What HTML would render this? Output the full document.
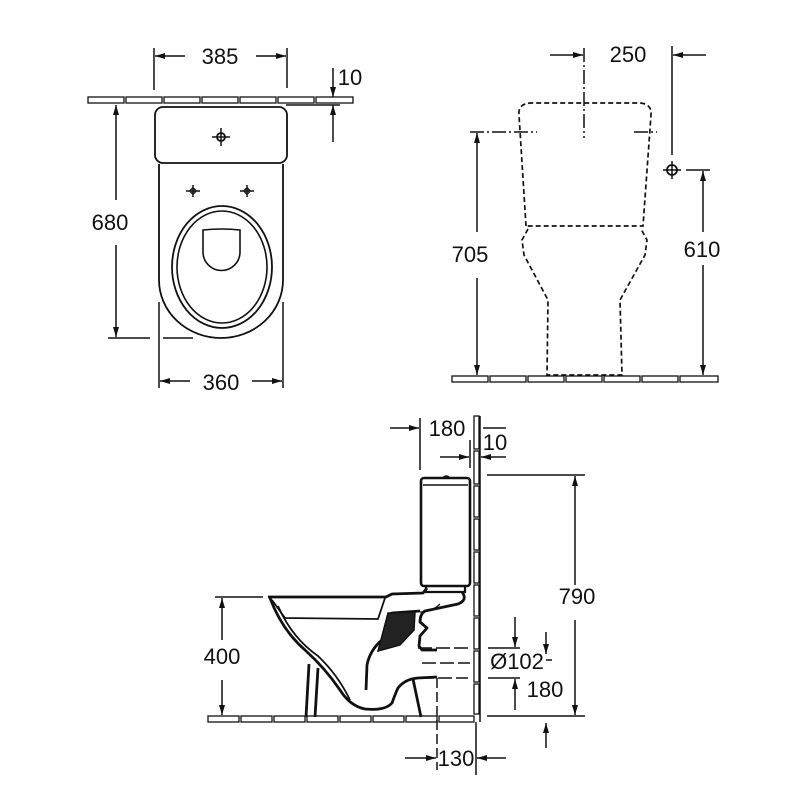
<!DOCTYPE html>
<html><head><meta charset="utf-8"><style>
html,body{margin:0;padding:0;background:#fff}
svg{display:block}
text{font-family:"Liberation Sans",sans-serif;font-size:22px;fill:#111;text-anchor:middle}
</style></head><body>
<svg width="800" height="800" viewBox="0 0 800 800" xmlns="http://www.w3.org/2000/svg">
<defs>
<marker id="a" viewBox="0 0 10 10" refX="10" refY="5" markerWidth="10" markerHeight="10" orient="auto-start-reverse" markerUnits="userSpaceOnUse"><path d="M0,2 L10,5 L0,8z" fill="#111"/></marker>
</defs>
<g stroke="#111" fill="none" stroke-width="1.5">
<!-- TOP VIEW -->
<g stroke-width="1.3">
<rect x="88" y="97" width="36" height="6"/><rect x="126" y="97" width="36" height="6"/><rect x="164" y="97" width="36" height="6"/><rect x="202" y="97" width="36" height="6"/><rect x="240" y="97" width="36" height="6"/><rect x="278" y="97" width="36" height="6"/><rect x="316" y="97" width="37" height="6"/>
</g>
<line x1="286" y1="105" x2="340" y2="105"/>
<rect x="155" y="107" width="132" height="56" rx="8" stroke-width="1.8"/>
<path d="M159,164 L159,280 A62,58 0 0 0 283,280 L283,164" stroke-width="1.8"/>
<ellipse cx="222" cy="267" rx="50" ry="61" stroke-width="1.8"/>
<ellipse cx="222" cy="267" rx="45" ry="56" stroke-width="1.6"/>
<path d="M203,230 Q222,228 240,230 L240,252 A18,18 0 0 1 203,252 Z" stroke-width="1.6"/>
<circle cx="221" cy="137" r="4" stroke-width="1.8"/><path d="M221,128v18M212,137h18"/>
<circle cx="193" cy="191" r="2.5"/><path d="M193,185v12M186,191h14"/>
<circle cx="247" cy="191" r="2.5"/><path d="M247,185v12M240,191h14"/>
<!-- 385 -->
<path d="M154,48V90M287,48V88"/>
<line x1="185" y1="56" x2="155" y2="56" marker-end="url(#a)"/>
<line x1="256" y1="56" x2="286" y2="56" marker-end="url(#a)"/>
<!-- 10 -->
<line x1="333" y1="68" x2="333" y2="97" marker-end="url(#a)"/>
<line x1="333" y1="142" x2="333" y2="105" marker-end="url(#a)"/>
<!-- 680 -->
<line x1="116" y1="200" x2="116" y2="105" marker-end="url(#a)"/>
<line x1="116" y1="245" x2="116" y2="337" marker-end="url(#a)"/>
<path d="M108,338H150M163,338H193"/>
<!-- 360 -->
<path d="M159,302V388M283,302V388"/>
<line x1="190" y1="381" x2="160" y2="381" marker-end="url(#a)"/>
<line x1="252" y1="381" x2="282" y2="381" marker-end="url(#a)"/>

<!-- FRONT VIEW -->
<g stroke-width="1.3">
<rect x="452" y="376" width="36" height="6"/><rect x="490" y="376" width="36" height="6"/><rect x="528" y="376" width="36" height="6"/><rect x="566" y="376" width="36" height="6"/><rect x="604" y="376" width="36" height="6"/><rect x="642" y="376" width="36" height="6"/><rect x="680" y="376" width="38" height="6"/>
</g>
<g stroke-dasharray="5,3" stroke-width="1.7">
<path d="M526,226 L519,115 Q518,104 530,103 L640,103 Q652,104 651,115 L643,226 Z"/>
<path d="M528,229 L522,240 L524,255 L548,300 L547,375 L622,375 L620,300 L645,255 L647,240 L641,229"/>
</g>
<g stroke-dasharray="14,3,2,3">
<path d="M584,48V138"/>
<path d="M470,132H537M634,132H657"/>
</g>
<circle cx="672" cy="170" r="5" stroke-width="1.8"/><path d="M672,161v18M663,170h18"/>
<path d="M672,46V155"/>
<path d="M686,170H710"/>
<!-- 250 -->
<line x1="550" y1="55" x2="583" y2="55" marker-end="url(#a)"/>
<line x1="706" y1="55" x2="673" y2="55" marker-end="url(#a)"/>
<!-- 705 -->
<line x1="477" y1="232" x2="477" y2="133" marker-end="url(#a)"/>
<line x1="477" y1="278" x2="477" y2="375" marker-end="url(#a)"/>
<!-- 610 -->
<line x1="703" y1="232" x2="703" y2="171" marker-end="url(#a)"/>
<line x1="703" y1="265" x2="703" y2="375" marker-end="url(#a)"/>

<!-- SIDE VIEW -->
<g stroke-width="1.3">
<rect x="208" y="716" width="31" height="6"/><rect x="241" y="716" width="31" height="6"/><rect x="274" y="716" width="31" height="6"/><rect x="307" y="716" width="31" height="6"/><rect x="340" y="716" width="31" height="6"/><rect x="373" y="716" width="31" height="6"/><rect x="406" y="716" width="31" height="6"/><rect x="439" y="716" width="35" height="6"/>
<rect x="474" y="416" width="5" height="33"/><rect x="474" y="451" width="5" height="33"/><rect x="474" y="486" width="5" height="31"/><rect x="474" y="519" width="5" height="31"/><rect x="474" y="552" width="5" height="31"/><rect x="474" y="585" width="5" height="31"/><rect x="474" y="618" width="5" height="31"/><rect x="474" y="651" width="5" height="31"/><rect x="474" y="684" width="5" height="30"/>
</g>
<path d="M480,416V722"/>
<path d="M470,440V468"/>
<!-- tank -->
<rect x="421" y="478" width="49" height="108" rx="3" stroke-width="2.6"/>
<path d="M423,485H468" stroke-width="1.6"/>
<path d="M443,478 Q446,474 450,478" stroke-width="1.6"/>
<path d="M426,586 L426,592 L465,592 L465,586" stroke-width="2.2"/>
<!-- bowl -->
<g stroke-width="2.8" stroke-linejoin="round">
<path d="M268,597 L386,597 L392,594 L423,593 L427,588"/>
<path d="M462,592 Q468,600 458,604 L425,611 Q420,614 420,622 L427,628 L420,636 L419,646 L422,650 L437,650"/>
<path d="M270,598 Q282,630 305,650 Q325,668 340,690 Q350,706 365,709 Q385,711 392,703 Q396,692 398,688 Q405,679 418,678 L437,677"/>
<path d="M366,690 L367,665 Q370,650 382,640 L392,613 L420,611"/>
<path d="M309,664 L306,717 M318,668 L315,717 M413,679 L421,717"/>
</g>
<g stroke-width="1.8">
<path d="M272,600 L285,618 L378,619 L385,598"/>
<path d="M278,606 Q292,638 318,656 Q338,675 350,700"/>
</g>
<path d="M388,613 L415,612 L414,630 L400,645 L378,651 Z" fill="#222" stroke-width="1.5"/>
<path d="M420,612 Q432,612 440,604" stroke-width="1.3"/>
<g stroke-dasharray="14,4" stroke-width="1.5">
<path d="M418,648H468M422,663H470M420,678H468"/>
</g>
<path d="M437,678V770" stroke-dasharray="10,4"/>
<path d="M476,722V775"/>
<!-- 180 top -->
<path d="M420,418V470"/>
<line x1="390" y1="428" x2="419" y2="428" marker-end="url(#a)"/>
<!-- 10 side -->
<line x1="440" y1="457" x2="469" y2="457" marker-end="url(#a)"/>
<line x1="506" y1="457" x2="481" y2="457" marker-end="url(#a)"/>
<line x1="483" y1="428" x2="506" y2="428"/>
<!-- 400 -->
<path d="M215,597H263"/>
<line x1="222" y1="640" x2="222" y2="598" marker-end="url(#a)"/>
<line x1="222" y1="680" x2="222" y2="715" marker-end="url(#a)"/>
<!-- 790 -->
<path d="M487,475H585M487,716H585"/>
<line x1="575" y1="585" x2="575" y2="476" marker-end="url(#a)"/>
<line x1="575" y1="620" x2="575" y2="715" marker-end="url(#a)"/>
<!-- 102 / 180 -->
<path d="M488,648H520M488,678H520"/>
<line x1="515" y1="617" x2="515" y2="647" marker-end="url(#a)"/>
<line x1="515" y1="710" x2="515" y2="679" marker-end="url(#a)"/>
<line x1="546" y1="632" x2="546" y2="654" marker-end="url(#a)"/>
<path d="M546,660H552"/>
<line x1="546" y1="748" x2="546" y2="723" marker-end="url(#a)"/>
<!-- 130 -->
<line x1="405" y1="758" x2="436" y2="758" marker-end="url(#a)"/>
<line x1="506" y1="758" x2="477" y2="758" marker-end="url(#a)"/>
</g>
<text x="220" y="64">385</text>
<text x="350" y="85">10</text>
<text x="110" y="230">680</text>
<text x="221" y="390">360</text>
<text x="628" y="62">250</text>
<text x="470" y="262">705</text>
<text x="702" y="257">610</text>
<text x="447" y="436">180</text>
<text x="495" y="450">10</text>
<text x="222" y="664">400</text>
<text x="577" y="604">790</text>
<text x="517" y="669">Ø102</text>
<text x="545" y="697">180</text>
<text x="456" y="766">130</text>
</svg>
</body></html>
